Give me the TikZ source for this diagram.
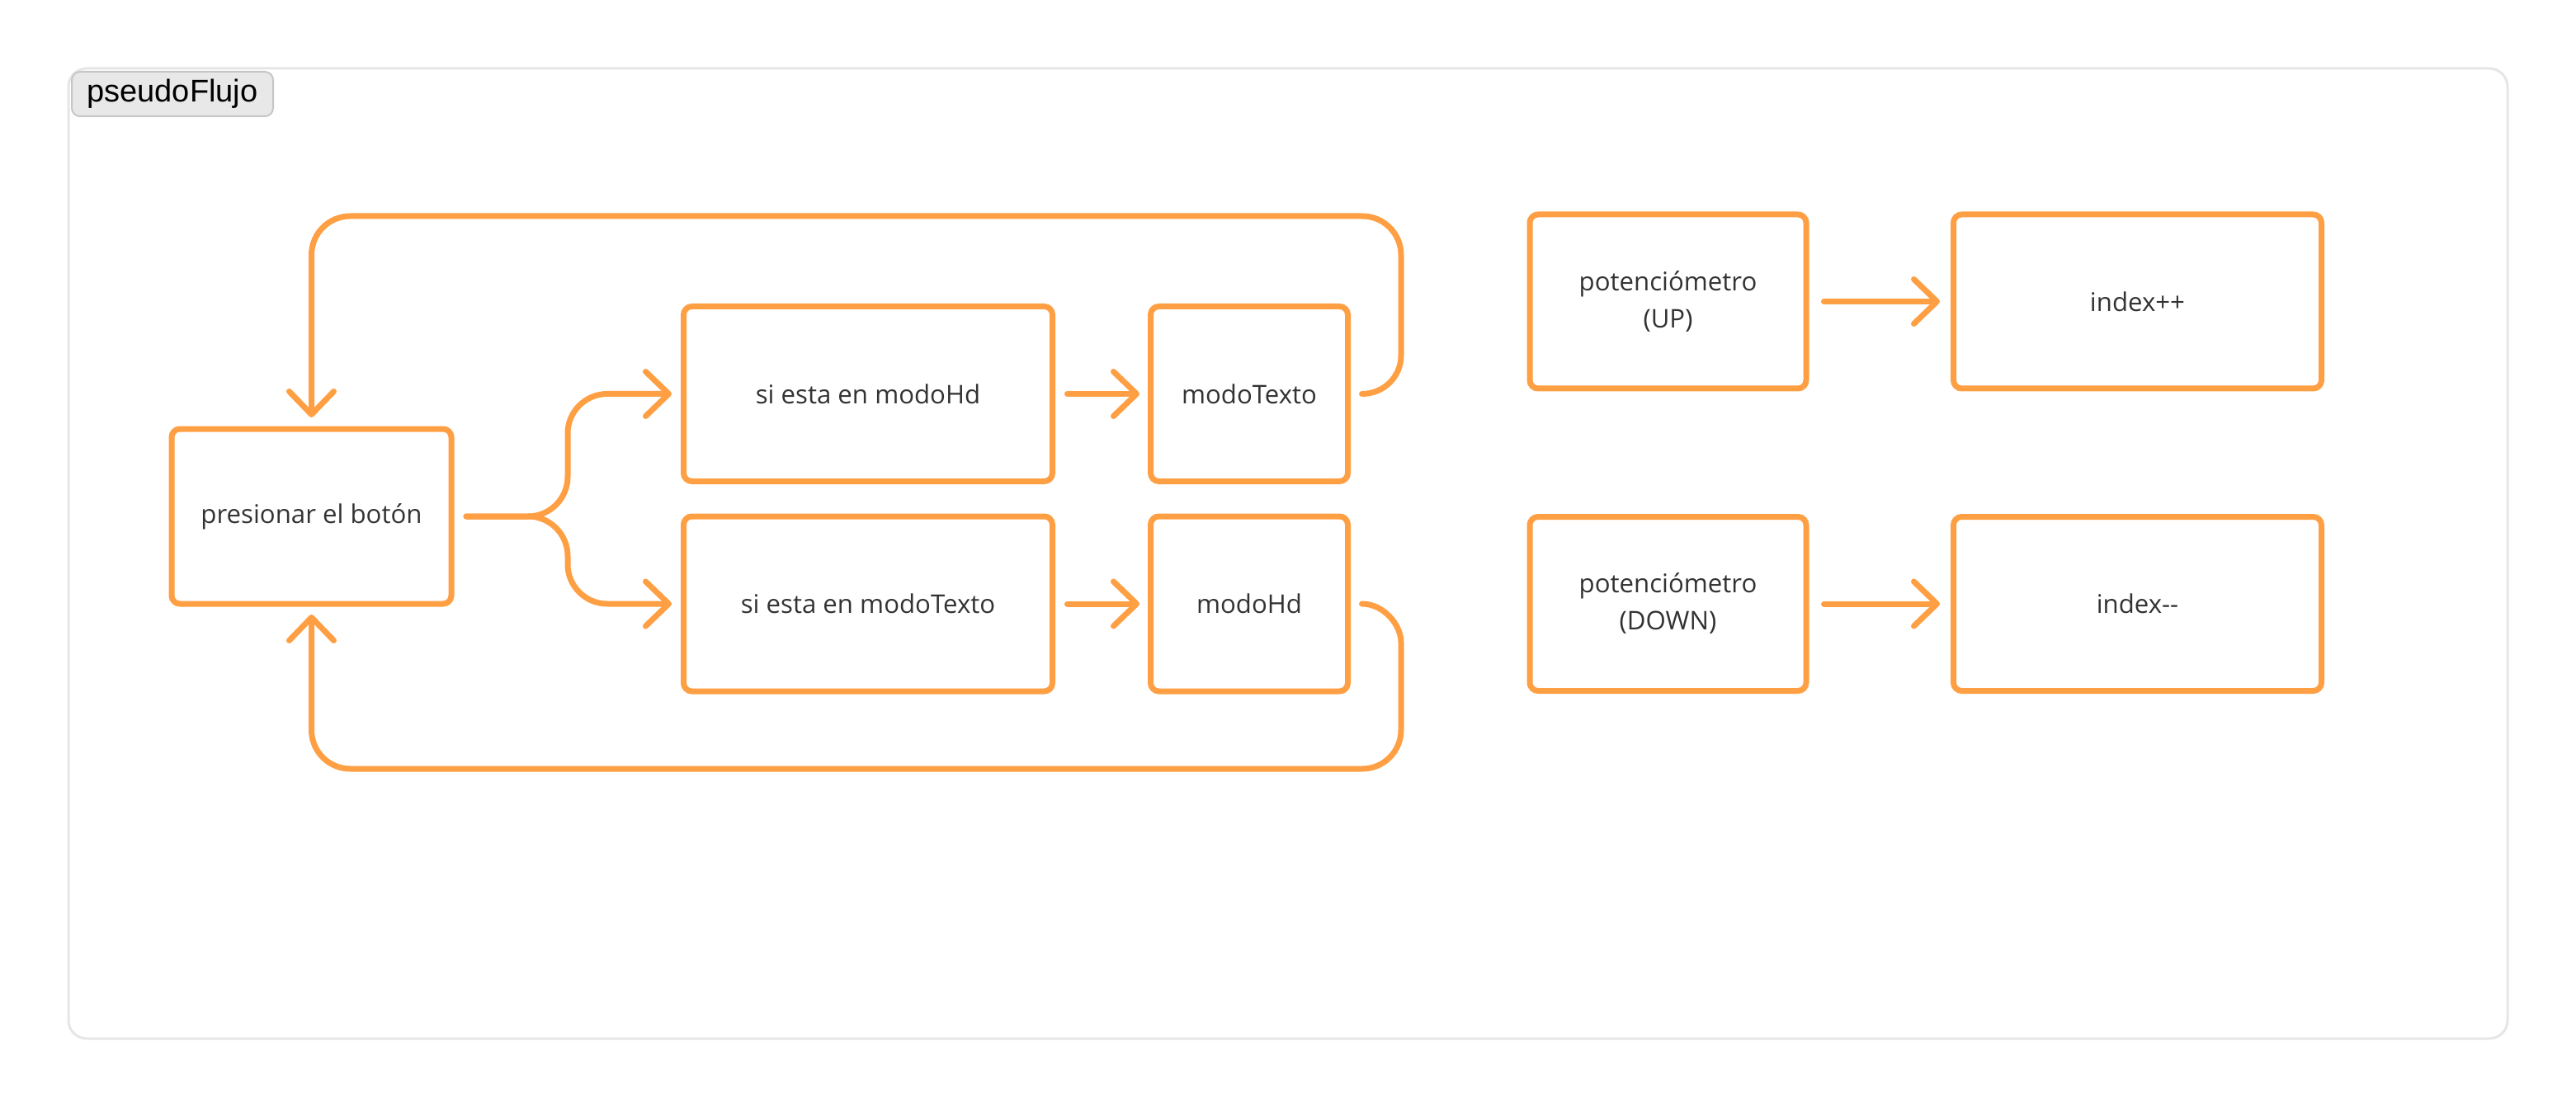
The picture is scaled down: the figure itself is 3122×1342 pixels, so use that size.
\documentclass[tikz,border=0pt]{standalone}
\usepackage{fontspec}
\newfontfamily\bodyfont{Open Sans}
\newfontfamily\labelfont{Liberation Sans}
\usetikzlibrary{arrows.meta,calc}
\definecolor{orng}{RGB}{255,159,67}
\definecolor{txt}{HTML}{333333}
\definecolor{frameline}{HTML}{E6E6E6}
\definecolor{tagfill}{HTML}{E8E8E8}
\definecolor{tagline}{HTML}{C6C6C6}
\begin{document}
\begin{tikzpicture}[x=0.5pt,y=-0.5pt,
  box/.style={draw=orng, line width=3.5pt, rounded corners=5pt, outer sep=0pt, inner sep=0pt,
    text=txt, font=\bodyfont\fontsize{15.6}{22.5}\selectfont, align=center, minimum height=106pt},
  conn/.style={draw=orng, line width=3.5pt, line cap=round, line join=round,
    -{Straight Barb[length=14pt,width=27pt,round]}},
]
\fill[white] (0,0) rectangle (3122,1342);
\useasboundingbox (0,0) rectangle (3122,1342);
\draw[frameline, line width=1.5pt, rounded corners=11pt, fill=white] (83,83) rectangle (3039,1259);
\node[draw=tagline, fill=tagfill, line width=1pt, rounded corners=5pt, minimum width=122pt,
  minimum height=27pt, inner sep=0pt, font=\labelfont\fontsize{19}{22}\selectfont] (tag) at (209,114) {pseudoFlujo};

\node[box, minimum width=169.5pt] (press) at (377.5,626) {presionar el botón};
\node[box, minimum width=223.5pt] (siHd) at (1052,477.5) {si esta en modoHd};
\node[box, minimum width=119.5pt] (mTexto) at (1514,477.5) {modoTexto};
\node[box, minimum width=223.5pt] (siTexto) at (1052,732) {si esta en modoTexto};
\node[box, minimum width=119.5pt] (mHd) at (1514,732) {modoHd};
\node[box, minimum width=167.5pt, minimum height=105.5pt] (potUp) at (2021.5,365.5) {potenciómetro\\(UP)};
\node[box, minimum width=223pt, minimum height=105.5pt] (incr) at (2590.5,365.5) {index++};
\node[box, minimum width=167.5pt, minimum height=105.5pt] (potDown) at (2021.5,732) {potenciómetro\\(DOWN)};
\node[box, minimum width=223pt, minimum height=105.5pt] (decr) at (2590.5,732) {index--};

\draw[conn] ([xshift=9pt]siHd.east) -- ([xshift=-6.75pt]mTexto.west);
\draw[conn] ([xshift=9pt]siTexto.east) -- ([xshift=-6.75pt]mHd.west);
\draw[conn] ([xshift=10.75pt]potUp.east) -- ([xshift=-8.25pt]incr.west);
\draw[conn] ([xshift=10.75pt]potDown.east) -- ([xshift=-8.25pt]decr.west);

\draw[conn, rounded corners=24pt] ([xshift=9pt]press.east) -- ++(123,0) |- ([xshift=-7.25pt]siHd.west);
\draw[conn, rounded corners=24pt] ([xshift=9pt]press.east) -- ++(123,0) |- ([xshift=-7.25pt]siTexto.west);

\coordinate (tA) at ([xshift=8.5pt]mTexto.east);
\coordinate (bA) at ([xshift=8.5pt]mHd.east);
\draw[conn] (tA) .. controls (1677.2,477.5) and (1698,456.7) .. (1698,431)
  -- (1698,309) .. controls (1698,283) and (1677,262) .. (1651,262)
  -- (424.5,262) .. controls (398.5,262) and (377.5,283) .. (377.5,309)
  -- ([yshift=7pt]press.north);
\draw[conn] (bA) .. controls (1677.2,732) and (1698,757.7) .. (1698,778.5)
  -- (1698,885) .. controls (1698,911) and (1677,932) .. (1651,932)
  -- (424.5,932) .. controls (398.5,932) and (377.5,911) .. (377.5,885)
  -- ([yshift=-6.5pt]press.south);
\end{tikzpicture}
\end{document}
